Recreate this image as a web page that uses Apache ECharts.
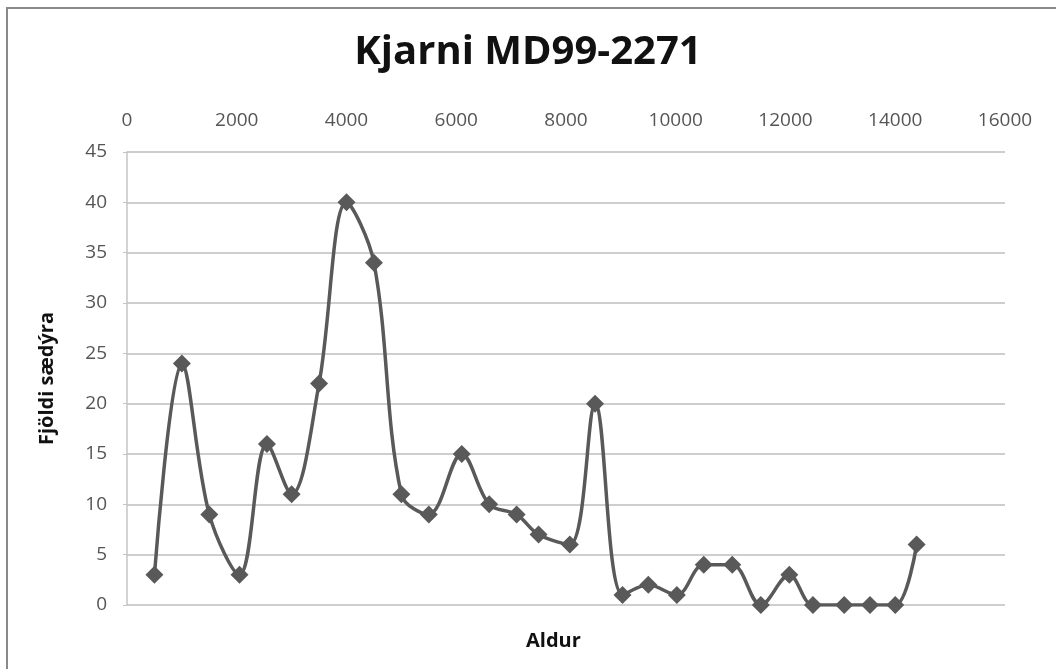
<!DOCTYPE html>
<html>
<head>
<meta charset="utf-8">
<script src="https://cdn.jsdelivr.net/npm/echarts@6/dist/echarts.min.js"></script>
<style>
html,body{margin:0;padding:0;background:#fff;}
#frame{position:absolute;left:0;top:0;width:1056px;height:669px;}
#border{position:absolute;left:6px;top:7px;width:1050px;height:662px;border-top:2px solid #8a8a8a;border-left:2px solid #8a8a8a;box-sizing:border-box;pointer-events:none;}
#chart{position:absolute;left:0;top:0;width:1056px;height:669px;}
</style>
</head>
<body>
<div id="frame">
<div id="chart"></div>
<div id="border"></div>
</div>
<script>
const chartTitle = "Kjarni MD99-2271";
const xAxisTitle = "Aldur";
const yAxisTitle = "Fjöldi sædýra";
const ageValues = [500, 1000, 1500, 2050, 2550, 3000, 3500, 4000, 4500, 5000, 5500, 6100, 6600, 7100, 7500, 8070, 8530, 9030, 9500, 10020, 10510, 11030, 11550, 12070, 12500, 13070, 13540, 14000, 14390];
const countValues = [3, 24, 9, 3, 16, 11, 22, 40, 34, 11, 9, 15, 10, 9, 7, 6, 20, 1, 2, 1, 4, 4, 0, 3, 0, 0, 0, 0, 6];

const seriesData = ageValues.map((a, i) => [a, countValues[i]]);
const font = "'Open Sans', 'Liberation Sans', sans-serif";

const chart = echarts.init(document.getElementById('chart'), null, {renderer: 'canvas'});
chart.setOption({
  animation: false,
  backgroundColor: '#ffffff',
  title: {
    text: chartTitle,
    left: 'center',
    top: 28,
    textStyle: {fontFamily: font, fontWeight: 'bold', fontSize: 40, color: '#111'}
  },
  grid: {left: 127, top: 152, right: 51, bottom: 64, containLabel: false},
  xAxis: {
    type: 'value',
    position: 'top',
    min: 0, max: 16000, interval: 2000,
    axisLine: {show: false},
    axisTick: {show: false},
    splitLine: {show: false},
    axisLabel: {fontFamily: font, fontSize: 19, color: '#555', margin: 22, formatter: v => String(v)}
  },
  yAxis: {
    type: 'value',
    min: 0, max: 45, interval: 5,
    axisLine: {show: true, lineStyle: {color: '#c4c4c4', width: 1.5}},
    axisTick: {show: true, length: 4, lineStyle: {color: '#c4c4c4'}},
    splitLine: {show: true, lineStyle: {color: '#bebebe', width: 1.5}},
    axisLabel: {fontFamily: font, fontSize: 19, color: '#555', margin: 20},
    name: yAxisTitle,
    nameLocation: 'middle',
    nameRotate: 90,
    nameGap: 70,
    nameTextStyle: {fontFamily: font, fontWeight: 'bold', fontSize: 20, color: '#111'}
  },
  graphic: [{
    type: 'text',
    left: 526,
    top: 631,
    style: {text: xAxisTitle, fontFamily: font, fontWeight: 'bold', fontSize: 20, fill: '#111'}
  }],
  series: [{
    type: 'line',
    data: seriesData,
    smooth: 0.35,
    symbol: 'diamond',
    symbolSize: 18,
    lineStyle: {color: '#595959', width: 3.5},
    itemStyle: {color: '#595959'},
    z: 3
  }]
});
</script>
</body>
</html>
